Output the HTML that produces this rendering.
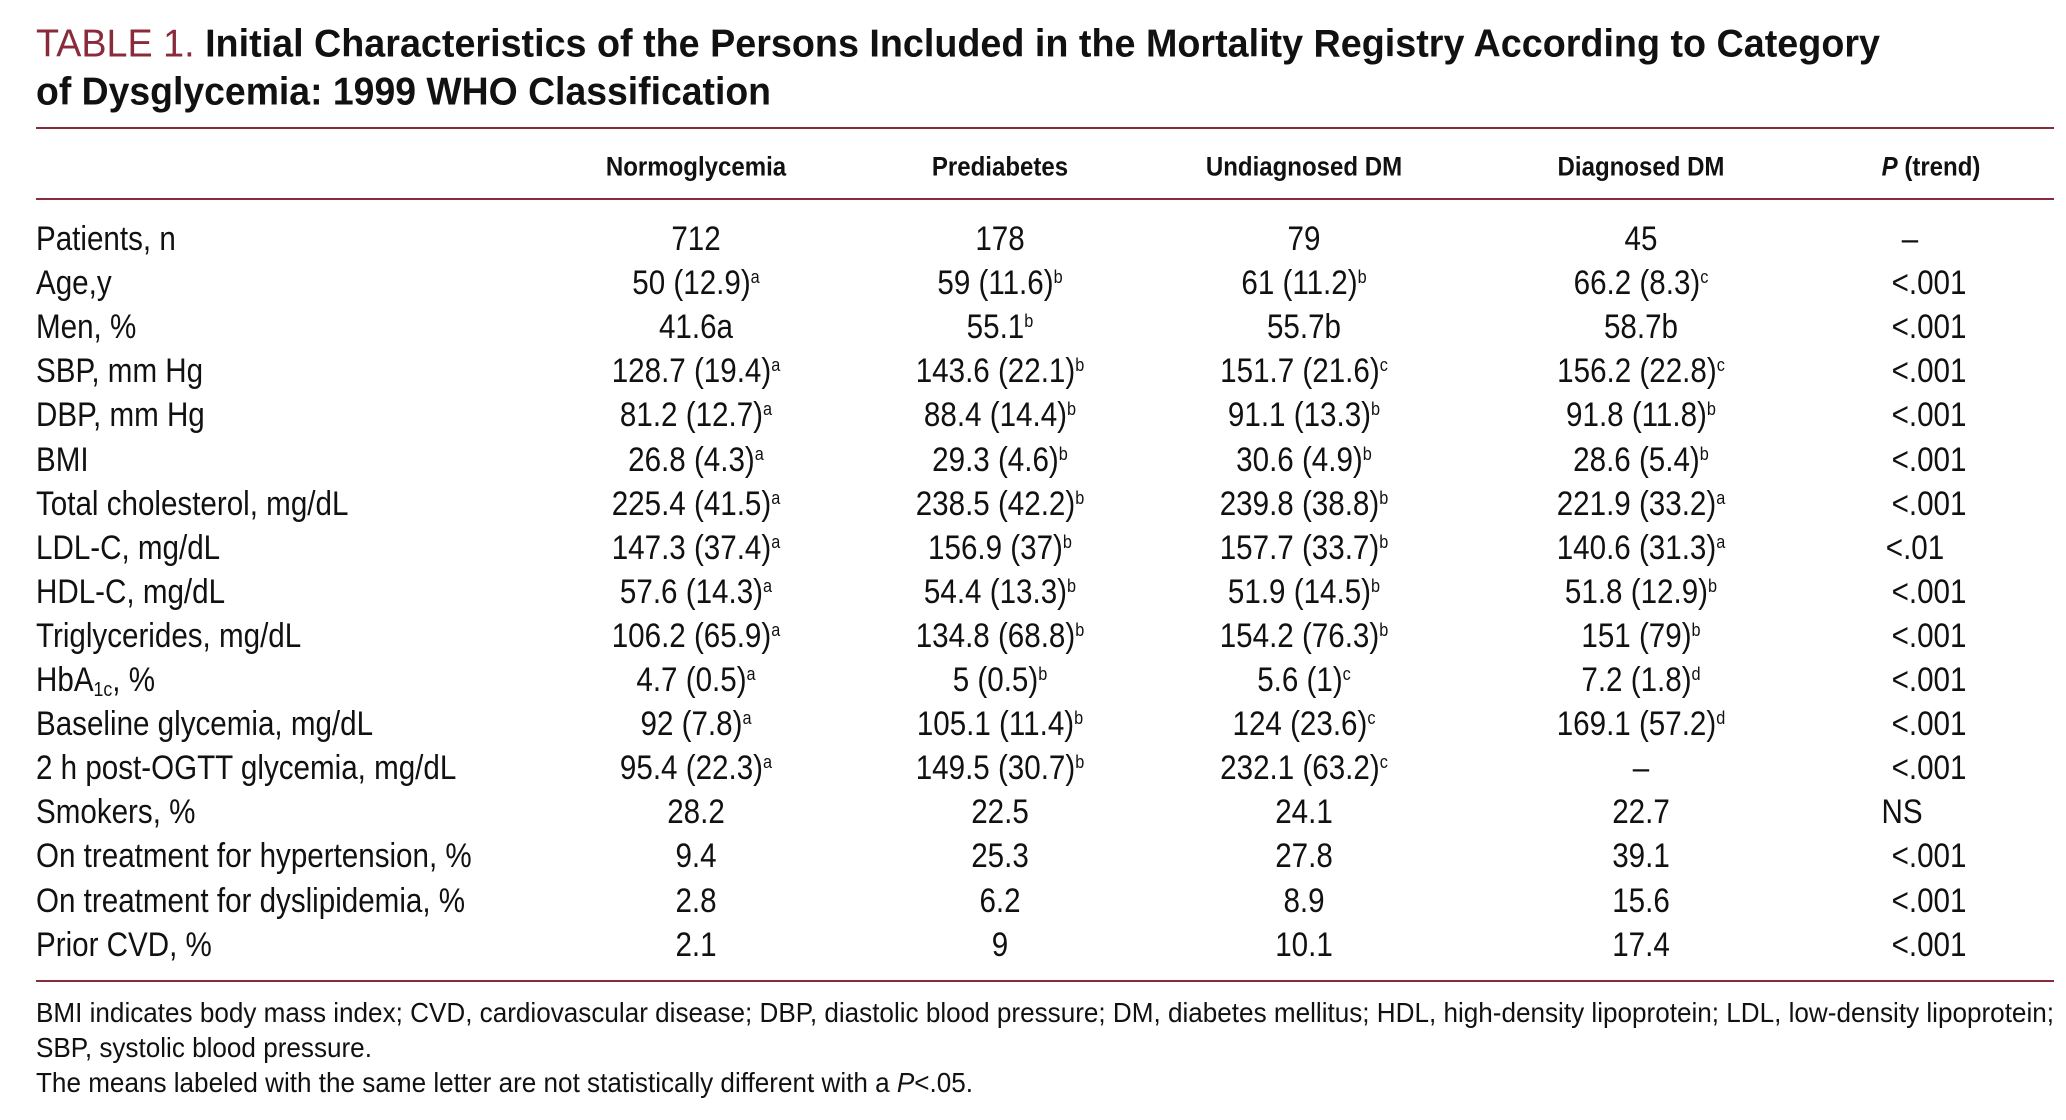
<!DOCTYPE html>
<html><head><meta charset="utf-8">
<style>
body{margin:0;background:#fff;width:2066px;height:1120px;overflow:hidden;position:relative;font-family:"Liberation Sans",Arial,sans-serif;color:#111}
.t{position:absolute;white-space:nowrap;line-height:1}
.c{transform:translate(-50%,-50%) scaleX(.87);transform-origin:center}
.l{transform:translateY(-50%) scaleX(.87);transform-origin:left center}
.hd.c{transform:translate(-50%,-50%) scaleX(.89)}
.rule{position:absolute;left:36px;width:2018px;height:2px;background:#8a2b3b}
.title{font-size:39px;font-weight:bold}
.hd{font-size:27px;font-weight:bold}
.row{font-size:34px}
sup{font-size:55%;vertical-align:0.6em;line-height:0}
sub{font-size:60%;vertical-align:-0.25em;line-height:0}
.fn{font-size:28px}
</style></head><body>
<div class="t l title" id="t1" style="left:36px;top:44px"><span style="color:#8a2b3b;font-weight:normal">TABLE 1.</span> Initial Characteristics of the Persons Included in the Mortality Registry According to Category</div>
<div class="t l title" id="t2" style="left:36px;top:92px">of Dysglycemia: 1999 WHO Classification</div>
<div class="rule" style="top:127px"></div>
<div class="rule" style="top:198px"></div>
<div class="rule" style="top:980px"></div>
<div id="tbl"></div>
<div class="t l fn" id="f1" style="left:36px;top:1013px">BMI indicates body mass index; CVD, cardiovascular disease; DBP, diastolic blood pressure; DM, diabetes mellitus; HDL, high-density lipoprotein; LDL, low-density lipoprotein;</div>
<div class="t l fn" id="f2" style="left:36px;top:1048px">SBP, systolic blood pressure.</div>
<div class="t l fn" id="f3" style="left:36px;top:1083px">The means labeled with the same letter are not statistically different with a <i>P</i>&lt;.05.</div>
<script>
const headers=["Normoglycemia","Prediabetes","Undiagnosed DM","Diagnosed DM","<i>P</i> (trend)"];
const colX=[696,1000,1304,1641,1931];
const labels=["Patients, n","Age,y","Men, %","SBP, mm Hg","DBP, mm Hg","BMI","Total cholesterol, mg/dL","LDL-C, mg/dL","HDL-C, mg/dL","Triglycerides, mg/dL","HbA<sub>1c</sub>, %","Baseline glycemia, mg/dL","2 h post-OGTT glycemia, mg/dL","Smokers, %","On treatment for hypertension, %","On treatment for dyslipidemia, %","Prior CVD, %"];
const normo=["712","50 (12.9)<sup>a</sup>","41.6a","128.7 (19.4)<sup>a</sup>","81.2 (12.7)<sup>a</sup>","26.8 (4.3)<sup>a</sup>","225.4 (41.5)<sup>a</sup>","147.3 (37.4)<sup>a</sup>","57.6 (14.3)<sup>a</sup>","106.2 (65.9)<sup>a</sup>","4.7 (0.5)<sup>a</sup>","92 (7.8)<sup>a</sup>","95.4 (22.3)<sup>a</sup>","28.2","9.4","2.8","2.1"];
const prediab=["178","59 (11.6)<sup>b</sup>","55.1<sup>b</sup>","143.6 (22.1)<sup>b</sup>","88.4 (14.4)<sup>b</sup>","29.3 (4.6)<sup>b</sup>","238.5 (42.2)<sup>b</sup>","156.9 (37)<sup>b</sup>","54.4 (13.3)<sup>b</sup>","134.8 (68.8)<sup>b</sup>","5 (0.5)<sup>b</sup>","105.1 (11.4)<sup>b</sup>","149.5 (30.7)<sup>b</sup>","22.5","25.3","6.2","9"];
const undiag=["79","61 (11.2)<sup>b</sup>","55.7b","151.7 (21.6)<sup>c</sup>","91.1 (13.3)<sup>b</sup>","30.6 (4.9)<sup>b</sup>","239.8 (38.8)<sup>b</sup>","157.7 (33.7)<sup>b</sup>","51.9 (14.5)<sup>b</sup>","154.2 (76.3)<sup>b</sup>","5.6 (1)<sup>c</sup>","124 (23.6)<sup>c</sup>","232.1 (63.2)<sup>c</sup>","24.1","27.8","8.9","10.1"];
const diag=["45","66.2 (8.3)<sup>c</sup>","58.7b","156.2 (22.8)<sup>c</sup>","91.8 (11.8)<sup>b</sup>","28.6 (5.4)<sup>b</sup>","221.9 (33.2)<sup>a</sup>","140.6 (31.3)<sup>a</sup>","51.8 (12.9)<sup>b</sup>","151 (79)<sup>b</sup>","7.2 (1.8)<sup>d</sup>","169.1 (57.2)<sup>d</sup>","–","22.7","39.1","15.6","17.4"];
const ptrend=["–","<.001","<.001","<.001","<.001","<.001","<.001","<.01","<.001","<.001","<.001","<.001","<.001","NS","<.001","<.001","<.001"];
const tbl=document.getElementById('tbl');
function mk(cls,html,x,y){const d=document.createElement('div');d.className='t '+cls;d.innerHTML=html;d.style.left=x+'px';d.style.top=y+'px';tbl.appendChild(d);return d;}
headers.forEach((h,i)=>{const d=mk('c hd',h,colX[i],167);

});
const cols=[normo,prediab,undiag,diag];
labels.forEach((lab,r)=>{const y=239+r*44.1;
const d=mk('l row',lab,36,y);


cols.forEach((arr,ci)=>{const c=mk('c row',arr[r],colX[ci],y);

});
const pv=ptrend[r];let px=1929;if(pv==='NS')px=1902;if(pv==='–')px=1910;if(pv==='<.01')px=1915;
const p=mk('c row',pv.replace('<','&lt;'),px,y);

});
function fit(id,w){const e=document.getElementById(id);const cur=e.getBoundingClientRect().width;const base=cur/0.87;const s=w/base;e.style.transform='translateY(-50%) scaleX('+s+')';return s;}
fit('t1',1844);const s=fit('f1',2018);fit('t2',735);
['f2','f3'].forEach(id=>{document.getElementById(id).style.transform='translateY(-50%) scaleX('+s+')';});
</script>
</body></html>
